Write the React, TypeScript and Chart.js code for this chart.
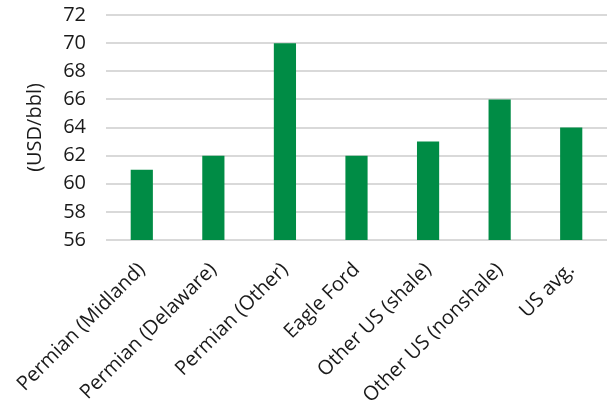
import React, { useEffect, useRef } from "react";
import { Chart, registerables } from "chart.js";

Chart.register(...registerables);

const categories = [
  "Permian (Midland)",
  "Permian (Delaware)",
  "Permian (Other)",
  "Eagle Ford",
  "Other US (shale)",
  "Other US (nonshale)",
  "US avg.",
];
const breakevenPrices = [61, 62, 70, 62, 63, 66, 64];
const yMin = 56;
const yMax = 72;
const yStep = 2;
const yTitle = "(USD/bbl)";

const FONT = "'Open Sans', sans-serif";
const TEXT = "#1a1a1a";

export default function App() {
  const canvasRef = useRef<HTMLCanvasElement | null>(null);

  useEffect(() => {
    const canvas = canvasRef.current;
    if (!canvas) return;
    const chart = new Chart(canvas, {
      type: "bar",
      data: {
        labels: categories,
        datasets: [
          {
            data: breakevenPrices,
            backgroundColor: "#008C45",
            borderWidth: 0,
            categoryPercentage: 1,
            barPercentage: 0.31,
          },
        ],
      },
      options: {
        animation: false,
        responsive: false,
        maintainAspectRatio: false,
        layout: { padding: { left: 0, right: 4, top: 15, bottom: 0 } },
        plugins: { legend: { display: false }, tooltip: { enabled: false } },
        scales: {
          x: {
            afterFit: (scale: any) => {
              // fixed axis band; rotated labels may spill left past the plot edge
              scale.height = 165;
              scale.paddingLeft = 0;
              scale.paddingRight = 0;
            },
            grid: { display: false, drawTicks: false },
            border: { display: false },
            ticks: {
              color: TEXT,
              font: { family: FONT, size: 20 },
              minRotation: 45,
              maxRotation: 45,
              autoSkip: false,
              padding: 18,
            },
          },
          y: {
            min: yMin,
            max: yMax,
            afterFit: (scale: any) => {
              scale.width = 106;
            },
            grid: {
              color: "#d9d9d9",
              lineWidth: 2,
              drawTicks: true,
              tickLength: 20,
              tickColor: "rgba(0,0,0,0)",
            },
            border: { display: false },
            ticks: {
              stepSize: yStep,
              autoSkip: false,
              color: TEXT,
              font: { family: FONT, size: 20 },
              padding: 0,
            },
            title: {
              display: true,
              text: yTitle,
              color: TEXT,
              font: { family: FONT, size: 20 },
              padding: { top: 23, bottom: 0 },
            },
          },
        },
      },
    });
    return () => chart.destroy();
  }, []);

  return (
    <div style={{ position: "fixed", left: 0, top: 0, width: 611, height: 405, background: "#fff" }}>
      <canvas ref={canvasRef} width={611} height={405} />
    </div>
  );
}
